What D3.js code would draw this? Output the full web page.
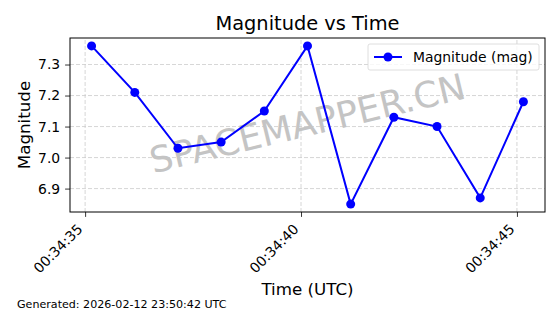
<!DOCTYPE html>
<html lang="en">
  <head>
    <meta charset="utf-8">
    <title>Magnitude vs Time</title>
    <script src="https://d3js.org/d3.v7.min.js"></script>
    <style type="text/css">
      body { margin: 0; background: #fff; }
      text { font-family: "DejaVu Sans", sans-serif; fill: #000; }
      .grid line { stroke: #cccccc; stroke-dasharray: 4,2; stroke-width: 0.8px; }
      .axis path, .axis line { stroke: #000; stroke-width: 0.8px; }
    </style>
  </head>
  <body>
    <script>
      var w = 560, h = 314;
      var margin = {left: 70, right: 15, top: 38, bottom: 102};

      // seconds after 00:34:00 UTC
      var seconds = [35.15, 36.15, 37.15, 38.15, 39.15, 40.15, 41.15, 42.15, 43.15, 44.15, 45.15];
      var magnitudes = [7.36, 7.21, 7.03, 7.05, 7.15, 7.36, 6.85, 7.13, 7.10, 6.87, 7.18];
      var yTicks = [6.9, 7.0, 7.1, 7.2, 7.3];
      var xTickSeconds = [35, 40, 45];

      var base = Date.UTC(2026, 1, 12, 0, 34, 0);
      var toDate = s => new Date(base + s * 1000);
      var dataset = seconds.map((s, i) => [toDate(s), magnitudes[i]]);

      var svg = d3.select("body").append("svg")
          .attr("width", w).attr("height", h);

      var xScale = d3.scaleUtc()
        .domain([toDate(34.65), toDate(45.65)])
        .range([margin.left, w - margin.right]);

      var ymin = d3.min(magnitudes), ymax = d3.max(magnitudes), pad = (ymax - ymin) * 0.05;
      var yScale = d3.scaleLinear()
        .domain([ymin - pad, ymax + pad])
        .range([h - margin.bottom, margin.top]);

      var x0 = margin.left, x1 = w - margin.right, y0 = h - margin.bottom, y1 = margin.top;

      // grid
      svg.append("g").attr("class", "grid")
        .selectAll("line").data(yTicks).join("line")
        .attr("x1", x0).attr("x2", x1)
        .attr("y1", d => yScale(d)).attr("y2", d => yScale(d));
      svg.append("g").attr("class", "grid")
        .selectAll("line").data(xTickSeconds).join("line")
        .attr("y1", y0).attr("y2", y1)
        .attr("x1", d => xScale(toDate(d))).attr("x2", d => xScale(toDate(d)));

      // watermark
      svg.append("text")
        .attr("transform", "translate(308,126) rotate(-13.5)")
        .attr("text-anchor", "middle")
        .attr("dominant-baseline", "middle")
        .style("font-size", "36px")
        .style("fill", "#c4c4c4")
        .text("SPACEMAPPER.CN");

      var mylinegen = d3.line()
        .x(d => xScale(d[0]))
        .y(d => yScale(d[1]));

      svg.append("path")
        .datum(dataset)
        .attr("d", mylinegen)
        .attr("fill", "none")
        .attr("stroke", "#0000ff")
        .attr("stroke-width", 2);

      svg.append("g").selectAll("circle").data(dataset).join("circle")
        .attr("cx", d => xScale(d[0]))
        .attr("cy", d => yScale(d[1]))
        .attr("r", 4.5)
        .attr("fill", "#0000ff");

      // axes
      var xAxis = svg.append("g").attr("class", "axis")
        .attr("transform", "translate(0," + y0 + ")")
        .call(d3.axisBottom(xScale).tickValues(xTickSeconds.map(toDate))
          .tickFormat(d3.utcFormat("%H:%M:%S")).tickSize(4.9).tickSizeOuter(0));
      xAxis.select(".domain").remove();
      xAxis.selectAll("text")
        .style("font-size", "13.9px")
        .attr("text-anchor", "end")
        .attr("dy", null).attr("y", 0)
        .attr("transform", "translate(-2,18) rotate(-45)");

      var yAxis = svg.append("g").attr("class", "axis")
        .attr("transform", "translate(" + x0 + ",0)")
        .call(d3.axisLeft(yScale).tickValues(yTicks).tickFormat(d3.format(".1f"))
          .tickSize(4.9).tickPadding(4.9).tickSizeOuter(0));
      yAxis.select(".domain").remove();
      yAxis.selectAll("text").style("font-size", "13.9px");

      svg.append("rect")
        .attr("x", x0).attr("y", y1)
        .attr("width", x1 - x0).attr("height", y0 - y1)
        .attr("fill", "none").attr("stroke", "#000").attr("stroke-width", 1);

      // legend
      var lg = svg.append("g").attr("transform", "translate(368,44)");
      lg.append("rect").attr("width", 171).attr("height", 26).attr("rx", 2)
        .attr("fill", "#fff").attr("fill-opacity", 0.8)
        .attr("stroke", "#d6d6d6").attr("stroke-width", 0.8);
      lg.append("line").attr("x1", 6).attr("x2", 34).attr("y1", 13).attr("y2", 13)
        .attr("stroke", "#0000ff").attr("stroke-width", 2);
      lg.append("circle").attr("cx", 20).attr("cy", 13).attr("r", 4.5).attr("fill", "#0000ff");
      lg.append("text").attr("x", 45).attr("y", 18).style("font-size", "13.9px")
        .text("Magnitude (mag)");

      // titles
      svg.append("text").attr("x", (x0 + x1) / 2).attr("y", 30)
        .attr("text-anchor", "middle").style("font-size", "19.4px")
        .text("Magnitude vs Time");
      svg.append("text").attr("x", (x0 + x1) / 2).attr("y", 295)
        .attr("text-anchor", "middle").style("font-size", "16.7px")
        .text("Time (UTC)");
      svg.append("text")
        .attr("transform", "translate(30," + (y0 + y1) / 2 + ") rotate(-90)")
        .attr("text-anchor", "middle").style("font-size", "16.7px")
        .text("Magnitude");
      svg.append("text").attr("x", 17).attr("y", 308)
        .style("font-size", "11.1px")
        .text("Generated: 2026-02-12 23:50:42 UTC");
    </script>
  </body>
</html>
